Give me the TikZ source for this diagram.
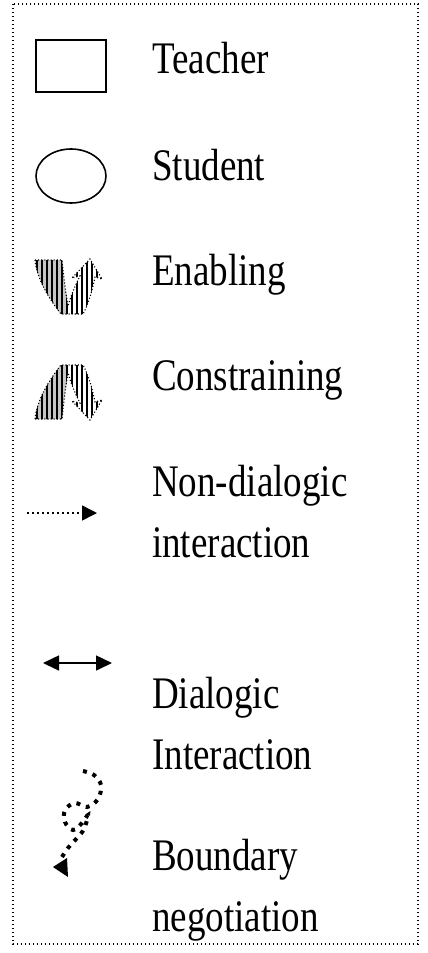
\documentclass[tikz,border=0pt]{standalone}
\usepackage{fontspec}
\setmainfont{Liberation Serif}
\usetikzlibrary{arrows.meta,shapes.geometric}

% outline of the curved band arrow (U-turn with an upward head)
\newcommand\bandoutline{(35,260) -- (62,260)
  .. controls (64,280) and (66,295) .. (68,306)
  .. controls (71,295) and (76,284) .. (80,276)
  -- (72,278) -- (90,259) -- (102,279) -- (95,277)
  .. controls (92,292) and (88,305) .. (83,314)
  -- (61,314)
  .. controls (50,300) and (37,280) .. (35,260) -- cycle}

% striped filling of the band
\newcommand\bandfill{%
  \begin{scope}
    \clip \bandoutline;
    \fill[white] (30,255) rectangle (105,320);
    \fill[gray!45] (30,255) rectangle (66,320);
    \foreach \sx in {37,42,...,102} \draw[stripe] (\sx,255) -- (\sx,320);
  \end{scope}
  \path[bandedge] \bandoutline;}

% two-line label, baseline on the first line
\newcommand\legendpair[2]{\vtop{\hbox{#1}\hbox{#2}}}

\begin{document}
\begin{tikzpicture}[x=1pt,y=-1pt,
  frame/.style={draw=black,line width=1.3pt,dash pattern=on 1.3pt off 2.7pt},
  iconline/.style={draw=black,line width=1.6pt},
  label/.style={anchor=base west,inner sep=0pt,yscale=1.22,transform shape,
    font=\fontsize{37}{50}\selectfont},
  bandedge/.style={draw=black,line width=1.1pt,dash pattern=on 1.1pt off 2pt},
  stripe/.style={line width=1.3pt,black},
  tri/.style={-{Triangle[length=15pt,width=15pt]}},
  dtri/.style={{Triangle[length=16pt,width=15pt]}-{Triangle[length=16pt,width=15pt]}}]

\useasboundingbox (0,0) rectangle (428,953);
\fill[white] (0,0) rectangle (428,953);

% legend frame
\path[frame] (13,4) rectangle (418,944);

% Teacher
\node[iconline,rectangle,minimum width=70pt,minimum height=52pt,inner sep=0pt] (teacher) at (71,66) {};
\node[label] (teacherlbl) at (152,73) {Teacher};

% Student
\node[iconline,ellipse,minimum width=70pt,minimum height=54pt,inner sep=0pt] (student) at (71,176) {};
\node[label] (studentlbl) at (152,180) {Student};

% Enabling
\bandfill
\node[label] (enablinglbl) at (152,285) {Enabling};

% Constraining: the same band turned upside down
\begin{scope}[yshift=-679pt,yscale=-1]
  \bandfill
\end{scope}
\node[label] (constraininglbl) at (152,390) {Constraining};

% Non-dialogic interaction
\coordinate (nd1) at (27,513);
\coordinate (nd2) at (97,513);
\draw[line width=1.5pt,dash pattern=on 1.5pt off 3.5pt,tri] (nd1) -- (nd2);
\node[label] (nondialogiclbl) at (152,496) {\legendpair{Non-dialogic}{interaction}};

% Dialogic interaction
\coordinate (d1) at (43,663);
\coordinate (d2) at (112,663);
\draw[line width=1.5pt,dtri] (d1) -- (d2);
\node[label] (dialogiclbl) at (152,708) {\legendpair{Dialogic}{Interaction}};

% Boundary negotiation
\draw[line width=4pt,dash pattern=on 4pt off 6pt] plot[smooth,tension=0.6] coordinates
  {(83,771) (94,775) (101,785) (98,799) (87,807) (75,803) (65,810) (65,822)
   (73,830) (82,823) (88,815) (84,829) (77,838) (68,848) (62,857)};
\fill[black] (53,867) -- (67,858) -- (68,877) -- cycle;
\node[label] (boundarylbl) at (152,870) {\legendpair{Boundary}{negotiation}};

\end{tikzpicture}
\end{document}
